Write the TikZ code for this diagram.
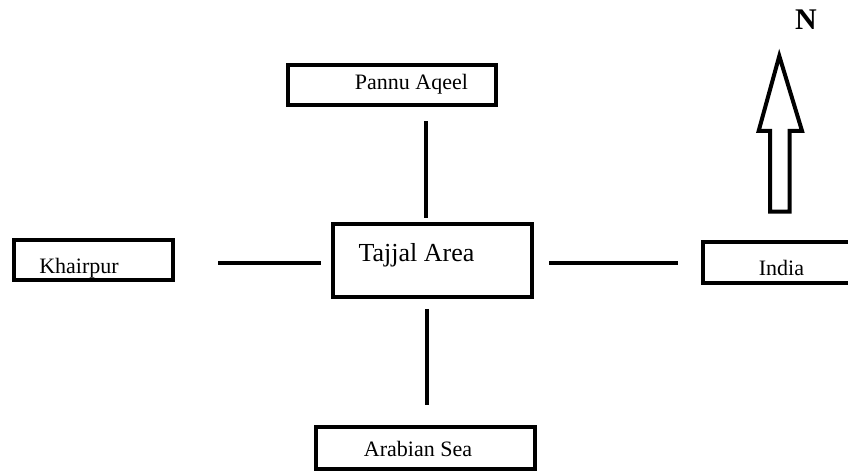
\documentclass[tikz,border=0pt]{standalone}
\usepackage{fontspec}
\setmainfont{Liberation Serif}
\usepackage{tikz}
\usetikzlibrary{calc}
\newcommand{\testoPiccolo}{\fontsize{11}{13}\selectfont}
\newcommand{\testoGrande}{\fontsize{13}{15}\selectfont}
\newcommand{\testoNord}{\fontsize{15}{17}\selectfont\bfseries}

\begin{document}
\begin{tikzpicture}[x = 0.5pt, y = -0.5pt,
    riquadro/.style = {draw, line width = 2pt, inner sep = 0pt},
    collegamento/.style = {line width = 2pt},
    every label/.style = {font = \testoPiccolo, inner sep = 0pt}]
    \useasboundingbox (0,0) rectangle (848,471);
    % Riquadri
    \node[riquadro, minimum width = 104pt, minimum height = 20pt,
        label = {[xshift = 9.75pt]center:Pannu Aqeel}] (pannu) at (392,84.5) {};
    \node[riquadro, minimum width = 99.35pt, minimum height = 36.75pt,
        label = {[font = \testoGrande, xshift = -8.1pt, yshift = 2.65pt]center:Tajjal Area}] (tajjal) at (432.7,260.7) {};
    \node[riquadro, minimum width = 79.7pt, minimum height = 20.15pt,
        label = {[xshift = -7.25pt, yshift = -4.25pt]center:Khairpur}] (khairpur) at (93.5,259.7) {};
    \node[riquadro, minimum width = 80pt, minimum height = 20.8pt,
        label = {[xshift = -0.75pt, yshift = -2.5pt]center:India}] (india) at (783,262.5) {};
    \node[riquadro, minimum width = 109.5pt, minimum height = 20.75pt,
        label = {[xshift = -3.8pt, yshift = -0.25pt]center:Arabian Sea}] (arabian) at (425.6,448) {};
    % Collegamenti
    \draw[collegamento, shorten <= 7.25pt, shorten >= 2pt] (pannu.south -| 426,0) -- (tajjal.north -| 426,0);
    \draw[collegamento, shorten <= 4.75pt, shorten >= 10.25pt] (tajjal.south -| 427,0) -- (arabian.north -| 427,0);
    \draw[collegamento, shorten <= 21.4pt, shorten >= 5.15pt] (khairpur.east |- 0,262.7) -- (tajjal.west |- 0,262.7);
    \draw[collegamento, shorten <= 7.5pt, shorten >= 11.5pt] (tajjal.east |- 0,263.3) -- (india.west |- 0,263.3);
    % Freccia del nord
    \coordinate (punta) at (779.3,56);
    \coordinate (base) at (779.5,211.7);
    \draw[line width = 2pt] (punta) -- (802,130.8) -- (789.5,130.8) -- (789.5,211.7) -- (base) -- (770,211.7)
        -- (770,130.8) -- (758.7,130.8) -- cycle;
    \node[font = \testoNord, inner sep = 0pt] (nord) at (806,19.7) {N};
\end{tikzpicture}
\end{document}
